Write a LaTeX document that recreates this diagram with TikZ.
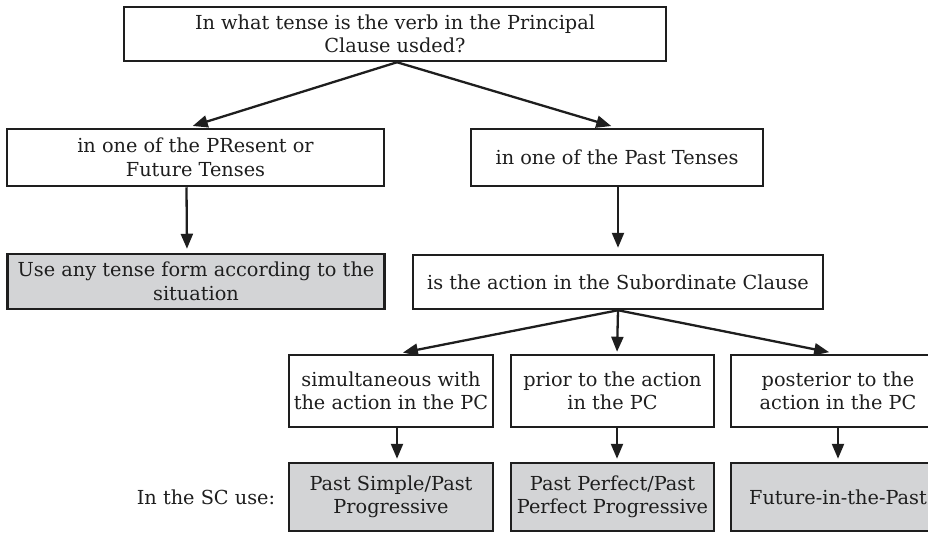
\documentclass[tikz,border=0pt]{standalone}
\usepackage{fontspec}
\setmainfont{DejaVu Serif}
\usetikzlibrary{arrows.meta}
\definecolor{fillg}{RGB}{211,212,214}
\definecolor{ink}{RGB}{30,30,30}
\tikzset{
  box/.style={draw=ink, line width=2.5pt, align=center, inner sep=0pt, text=ink,
    font=\fontsize{19.3}{23.5}\selectfont},
  gbox/.style={box, fill=fillg},
  arr/.style={draw=ink, line width=2.3pt, -{Triangle[length=15pt,width=12pt]}},
  lbl/.style={text=ink, font=\fontsize{19.3}{23.5}\selectfont, inner sep=0pt}
}
\begin{document}
\begin{tikzpicture}[x=1pt,y=-1pt]
\useasboundingbox (0,0) rectangle (928,533);
\begin{scope}
\clip (0,0) rectangle (928,533);
\node[box, minimum width=542, minimum height=54] (top) at (395,34) {In what tense is the verb in the Principal\\Clause usded?};
\node[box, minimum width=377, minimum height=57] (L1) at (195.5,157.5) {in one of the PResent or\\Future Tenses};
\node[box, minimum width=292, minimum height=57] (R1) at (617,157.5) {in one of the Past Tenses};
\node[gbox, minimum width=377, minimum height=55] (L2) at (196,281.5) {Use any tense form according to the\\situation};
\node[box, minimum width=410, minimum height=54] (Sub) at (618,282) {is the action in the Subordinate Clause};
\node[box, minimum width=204, minimum height=72] (A) at (391,391) {simultaneous with\\the action in the PC};
\node[box, minimum width=203, minimum height=72] (B) at (612.5,391) {prior to the action\\in the PC};
\node[box, minimum width=214, minimum height=72] (C) at (838,391) {posterior to the\\action in the PC};
\node[gbox, minimum width=204, minimum height=68] (gA) at (391,497) {Past Simple/Past\\Progressive};
\node[gbox, minimum width=203, minimum height=68] (gB) at (612.5,497) {Past Perfect/Past\\Perfect Progressive};
\node[gbox, minimum width=214, minimum height=68] (gC) at (838,497) {Future-in-the-Past};
\node[lbl] (use) at (206,497) {In the SC use:};

\draw[arr, shorten >=6pt] ([xshift=2]top.south) -- ([xshift=-8.5]L1.north);
\draw[arr, shorten >=6pt] ([xshift=2]top.south) -- (R1.north);
\draw[arr, shorten >=4pt] ([xshift=-9]L1.south) -- ([xshift=-9]L2.north);
\draw[arr, shorten >=6pt] ([xshift=1]R1.south) -- (Sub.north);
\draw[arr, shorten >=6pt] (Sub.south) -- ([xshift=6]A.north);
\draw[arr, shorten >=2pt] (Sub.south) -- ([xshift=4.5]B.north);
\draw[arr, shorten >=8pt] (Sub.south) -- ([xshift=-1]C.north);
\draw[arr, shorten >=3pt] ([xshift=6]A.south) -- ([xshift=6]gA.north);
\draw[arr, shorten >=3pt] ([xshift=4.5]B.south) -- ([xshift=4.5]gB.north);
\draw[arr, shorten >=3pt] (C.south) -- (gC.north);
\end{scope}
\end{tikzpicture}
\end{document}
